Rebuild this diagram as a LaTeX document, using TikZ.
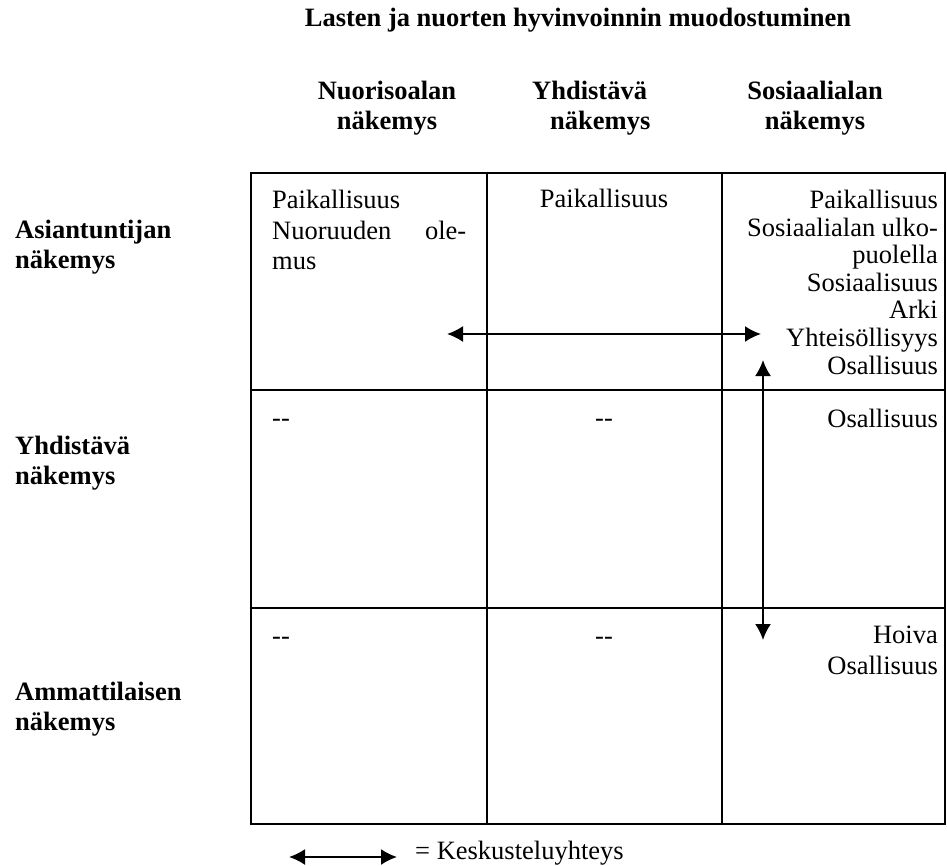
\documentclass[tikz,border=0pt]{standalone}
\usepackage{fontspec}
\setmainfont{Liberation Serif}
\usetikzlibrary{arrows.meta}
\tikzstyle{frame}=[line width=1.6pt]
\tikzstyle{ttl}=[inner sep=0pt, font=\bfseries\fontsize{26.5}{30}\selectfont, anchor=base]
\tikzstyle{hd}=[inner sep=0pt, font=\bfseries\fontsize{26.5}{30}\selectfont, align=center, anchor=north]
\tikzstyle{rl}=[inner sep=0pt, font=\bfseries\fontsize{26.5}{30}\selectfont, align=left, anchor=north west]
\tikzstyle{cl}=[inner sep=0pt, font=\fontsize{26.5}{30.5}\selectfont]
\tikzstyle{cr}=[inner sep=0pt, font=\fontsize{26.5}{27.6}\selectfont, align=right, anchor=north east]
\tikzstyle{talk}=[{Latex[length=16pt,width=16pt]}-{Latex[length=16pt,width=16pt]}, line width=2pt]

\begin{document}
\begin{tikzpicture}[x=1pt, y=-1pt]
	\useasboundingbox (0,0) rectangle (947,866);
	\draw (578,27) node[ttl] (title) {Lasten ja nuorten hyvinvoinnin muodostuminen};
	%
	\draw (387,81) node[hd] (h1) {Nuorisoalan\\näkemys};
	\draw (532,81) node[hd, align=left, anchor=north west] (h2) {Yhdistävä\\\hspace*{18pt}näkemys};
	\draw (815,81) node[hd] (h3) {Sosiaalialan\\näkemys};
	%
	\draw (15,220) node[rl] (r1) {Asiantuntijan\\näkemys};
	\draw (15,436) node[rl] (r2) {Yhdistävä\\näkemys};
	\draw (15,682) node[rl] (r3) {Ammattilaisen\\näkemys};
	%
	\draw[frame] (251,173) rectangle (945,824);
	\draw[frame] (487,173) -- (487,824);
	\draw[frame] (722,173) -- (722,824);
	\draw[frame] (251,390) -- (945,390);
	\draw[frame] (251,608) -- (945,608);
	%
	\draw (272,190) node[cl, align=left, anchor=north west, text width=194pt] (c11) {Paikallisuus\\Nuoruuden\hfill ole-\\mus};
	\draw (604,208) node[cl, anchor=base] (c12) {Paikallisuus};
	\draw (938,190) node[cr] (c13) {Paikallisuus\\Sosiaalialan ulko-\\puolella\\Sosiaalisuus\\Arki\\Yhteisöllisyys\\Osallisuus};
	\draw (272,426) node[cl, anchor=base west] (c21) {-{}-};
	\draw (604,426) node[cl, anchor=base] (c22) {-{}-};
	\draw (938,427) node[cl, anchor=base east] (c23) {Osallisuus};
	\draw (272,644) node[cl, anchor=base west] (c31) {-{}-};
	\draw (604,644) node[cl, anchor=base] (c32) {-{}-};
	\draw (938,626) node[cr, font=\fontsize{26.5}{30.5}\selectfont] (c33) {Hoiva\\Osallisuus};
	%
	\coordinate (aw) at (447,334);
	\coordinate (ae) at (761,334);
	\coordinate (an) at (763,360);
	\coordinate (as) at (763,640);
	\draw[talk] (aw) -- (ae);
	\draw[talk] (an) -- (as);
	%
	\coordinate (lw) at (289,857);
	\coordinate (le) at (397,857);
	\draw[talk] (lw) -- (le);
	\draw (415,859) node[cl, anchor=base west] (leg) {= Keskusteluyhteys};
\end{tikzpicture}
\end{document}
